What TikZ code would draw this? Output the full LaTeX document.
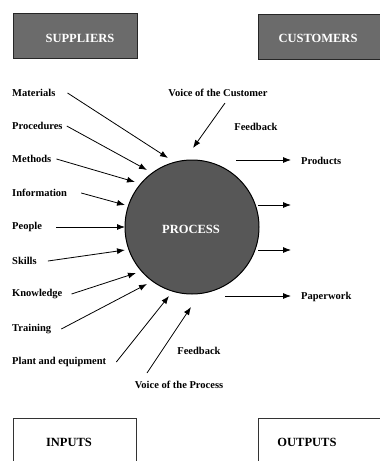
\documentclass[tikz,border=0pt]{standalone}
\usepackage{fontspec}
\setmainfont{Liberation Serif}
\usetikzlibrary{arrows.meta}
\begin{document}
\begin{tikzpicture}[x=1pt,y=-1pt,
  lbl/.style={font=\bfseries\fontsize{10.5}{12}\selectfont, inner sep=0pt},
  boxtxt/.style={font=\bfseries\fontsize{12.5}{14}\selectfont, inner sep=0pt},
  darkbox/.style={draw=black!85, line width=0.9pt, fill=black!58, minimum height=45pt},
  openbox/.style={draw=black!80, line width=0.8pt, minimum height=52pt},
  arr/.style={-{Latex[length=8pt,width=6pt]}, line width=0.8pt}]
\clip (0,0) rectangle (380,461);
\fill[white] (0,0) rectangle (380,461);
% top boxes
\node[darkbox, minimum width=124pt] (supbox) at (75,35.5) {};
\node[boxtxt, text=white] (sup) at (80,38) {SUPPLIERS};
\node[darkbox, minimum width=126pt] (cusbox) at (321,36.5) {};
\node[boxtxt, text=white] (cus) at (318,38) {CUSTOMERS};
% process circle
\node[circle, draw=black, line width=1pt, fill=black!66, minimum size=134pt, inner sep=0pt] (proc) at (192,227) {};
\node[boxtxt, text=white] (proctxt) at (191,229) {PROCESS};
% left labels
\node[lbl, anchor=west] (mat) at (12,93) {Materials};
\node[lbl, anchor=west] (pro) at (12,126) {Procedures};
\node[lbl, anchor=west] (met) at (12,159) {Methods};
\node[lbl, anchor=west] (inf) at (12,193) {Information};
\node[lbl, anchor=west] (peo) at (12,227) {People};
\node[lbl, anchor=west] (ski) at (12,261) {Skills};
\node[lbl, anchor=west] (kno) at (12,294) {Knowledge};
\node[lbl, anchor=west] (tra) at (12,329) {Training};
\node[lbl, anchor=west] (pla) at (12,362) {Plant and equipment};
% other labels
\node[lbl] (voc) at (218,93) {Voice of the Customer};
\node[lbl] (fbt) at (256,127) {Feedback};
\node[lbl] (fbb) at (199,351) {Feedback};
\node[lbl] (vop) at (179,385) {Voice of the Process};
\node[lbl, anchor=west] (prd) at (301,161) {Products};
\node[lbl, anchor=west] (ppw) at (301,297) {Paperwork};
% arrow coordinates
\coordinate (tmat) at (168,158);
\coordinate (tpro) at (147,170);
\coordinate (tmet) at (135,182);
\coordinate (tinf) at (125,205);
\coordinate (tpeo) at (125,227);
\coordinate (tski) at (125,250);
\coordinate (tkno) at (136,273);
\coordinate (ttra) at (147,284);
\coordinate (tpla) at (169,296);
\coordinate (svop) at (147,373);
\coordinate (tvop) at (191,307);
\coordinate (svoc) at (225,103);
\coordinate (tvoc) at (193,148);
\coordinate (sprd) at (236,160);
\coordinate (tprd) at (291,160);
\coordinate (so2) at (258,205);
\coordinate (to2) at (291,205);
\coordinate (so3) at (258,250);
\coordinate (to3) at (291,250);
\coordinate (sppw) at (225,296);
\coordinate (tppw) at (291,296);
% input arrows
\draw[arr] ([xshift=12pt]mat.east) -- (tmat);
\draw[arr] ([xshift=4pt]pro.east) -- (tpro);
\draw[arr] ([xshift=5pt]met.east) -- (tmet);
\draw[arr] ([xshift=14pt]inf.east) -- (tinf);
\draw[arr] ([xshift=14pt]peo.east) -- (tpeo);
\draw[arr] ([xshift=11pt]ski.east) -- (tski);
\draw[arr] ([xshift=9pt]kno.east) -- (tkno);
\draw[arr] ([xshift=10pt]tra.east) -- (ttra);
\draw[arr] ([xshift=10pt]pla.east) -- (tpla);
\draw[arr] (svop) -- (tvop);
\draw[arr] (svoc) -- (tvoc);
% output arrows
\draw[arr] (sprd) -- (tprd);
\draw[arr] (so2) -- (to2);
\draw[arr] (so3) -- (to3);
\draw[arr] (sppw) -- (tppw);
% bottom boxes
\node[openbox, minimum width=123pt] (inbox) at (74.5,444) {};
\node[boxtxt] (inp) at (69,442) {INPUTS};
\node[openbox, minimum width=124pt] (outbox) at (320,444) {};
\node[boxtxt] (outp) at (307,442) {OUTPUTS};
\end{tikzpicture}
\end{document}
